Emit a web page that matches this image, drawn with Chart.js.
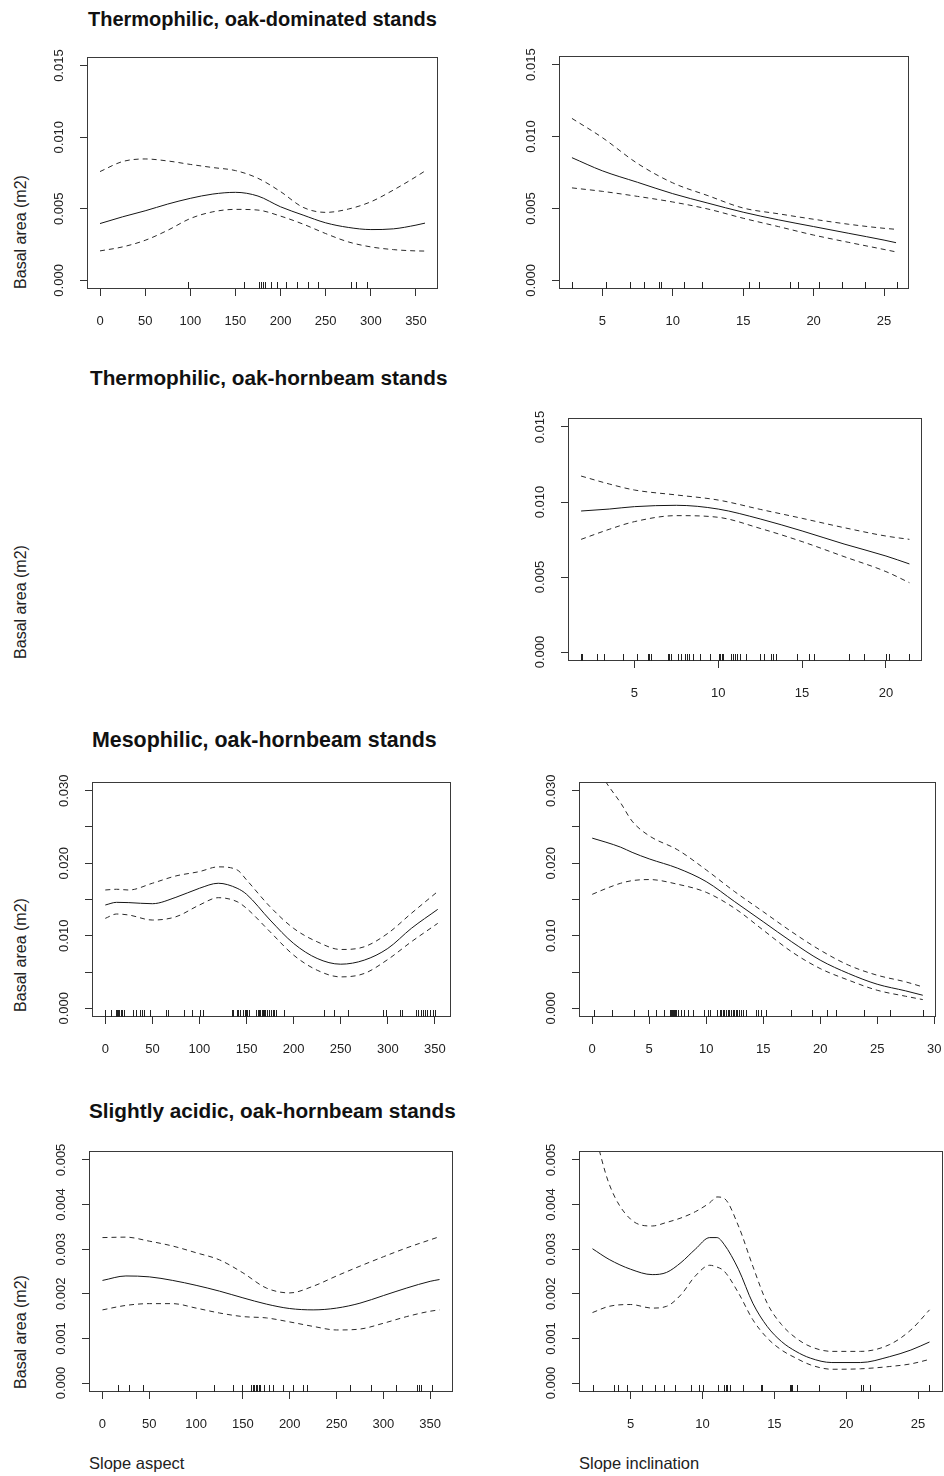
<!DOCTYPE html>
<html>
<head>
<meta charset="utf-8">
<script src="https://cdn.jsdelivr.net/npm/chart.js@4.4.0/dist/chart.umd.min.js"></script>
<style>
  html, body { margin: 0; padding: 0; background: #fff; overflow: hidden; }
  body { width: 944px; height: 1476px; position: relative; font-family: "Liberation Sans", Arial, sans-serif; color: #1a1a1a; }
  canvas { position: absolute; }
  .title { position: absolute; font-weight: bold; font-size: 20px; line-height: 1; white-space: nowrap; color: #111; }
  .ylab { position: absolute; width: 200px; font-size: 16px; line-height: 1; text-align: center; white-space: nowrap; transform: rotate(-90deg); color: #222; }
  .xlab { position: absolute; font-size: 16.5px; line-height: 1; white-space: nowrap; color: #222; }
</style>
</head>
<body>
<div class="title" style="left:88px;top:9px;">Thermophilic, oak-dominated stands</div>
<div class="title" style="left:90px;top:368px;font-size:20.75px;">Thermophilic, oak-hornbeam stands</div>
<div class="title" style="left:92px;top:730px;font-size:21.4px;">Mesophilic, oak-hornbeam stands</div>
<div class="title" style="left:89px;top:1101px;font-size:20.75px;">Slightly acidic, oak-hornbeam stands</div>

<div class="ylab" style="left:-79px;top:224px;">Basal area (m2)</div>
<div class="ylab" style="left:-79px;top:594px;">Basal area (m2)</div>
<div class="ylab" style="left:-79px;top:947px;">Basal area (m2)</div>
<div class="ylab" style="left:-79px;top:1324px;">Basal area (m2)</div>

<div class="xlab" style="left:89px;top:1455px;">Slope aspect</div>
<div class="xlab" style="left:579px;top:1455px;">Slope inclination</div>

<script>
(function () {
  'use strict';

  // tick positions and labels
  var aspectTicks = [0, 50, 100, 150, 200, 250, 300, 350];
  var inclTicksA = [5, 10, 15, 20, 25];
  var inclTicksB = [5, 10, 15, 20];
  var inclTicksC = [0, 5, 10, 15, 20, 25, 30];
  var yTicks015 = [0, 0.005, 0.010, 0.015];
  var yLabels015 = ['0.000', '0.005', '0.010', '0.015'];
  var yTicks030 = [0, 0.005, 0.010, 0.015, 0.020, 0.025, 0.030];
  var yLabels030 = ['0.000', '', '0.010', '', '0.020', '', '0.030'];
  var yTicks005 = [0, 0.001, 0.002, 0.003, 0.004, 0.005];
  var yLabels005 = ['0.000', '0.001', '0.002', '0.003', '0.004', '0.005'];

  // Thermophilic, oak-dominated: slope aspect
  var oakAspX = [0, 25, 50, 75, 100, 125, 150, 175, 200, 225, 250, 275, 300, 325, 350, 360];
  var oakAspFit = [0.00397, 0.00444, 0.00486, 0.00533, 0.00573, 0.00603, 0.00615, 0.00589, 0.00514, 0.00456, 0.00402, 0.0037, 0.00355, 0.0036, 0.00386, 0.0040];
  var oakAspUp = [0.0076, 0.0083, 0.00848, 0.00834, 0.0081, 0.00788, 0.00767, 0.00713, 0.0062, 0.0051, 0.00475, 0.00498, 0.00549, 0.00631, 0.00724, 0.00764];
  var oakAspLo = [0.00206, 0.00234, 0.0028, 0.0035, 0.00432, 0.00479, 0.00496, 0.00491, 0.00449, 0.00393, 0.00327, 0.00269, 0.00234, 0.00215, 0.00206, 0.00205];
  var oakAspRug = [97, 160, 176, 178, 181, 183, 189, 196, 206, 218, 230, 241, 278, 284, 296];

  // Thermophilic, oak-dominated: slope inclination
  var oakIncX = [2.85, 5, 7.5, 10, 12.5, 15, 17.5, 20, 22.5, 25, 25.85];
  var oakIncFit = [0.00853, 0.00762, 0.00682, 0.00603, 0.00537, 0.00474, 0.00421, 0.00374, 0.00327, 0.0028, 0.00262];
  var oakIncUp = [0.01126, 0.00993, 0.00813, 0.00678, 0.00589, 0.00503, 0.00463, 0.00425, 0.0039, 0.00362, 0.00355];
  var oakIncLo = [0.00643, 0.00619, 0.00584, 0.00545, 0.00496, 0.00432, 0.00374, 0.00315, 0.00264, 0.00215, 0.00198];
  var oakIncRug = [2.85, 5.28, 6.99, 7.98, 9.0, 9.16, 10.77, 12.07, 15.45, 16.11, 18.29, 18.92, 20.37, 22.0, 23.65, 25.9];

  // Thermophilic, oak-hornbeam: slope inclination
  var thHbIncX = [1.82, 3.5, 5, 7.5, 10, 12.5, 15, 17.5, 20, 21.4];
  var thHbIncFit = [0.0094, 0.00953, 0.00969, 0.00978, 0.00953, 0.00887, 0.00807, 0.0072, 0.0064, 0.00587];
  var thHbIncUp = [0.01173, 0.0112, 0.0108, 0.01047, 0.01013, 0.00951, 0.00891, 0.00829, 0.00773, 0.00751];
  var thHbIncLo = [0.00751, 0.00818, 0.00869, 0.00909, 0.00898, 0.00824, 0.00736, 0.00636, 0.00536, 0.00462];
  var thHbIncRug = [1.82, 1.88, 2.77, 3.21, 4.3, 5.16, 5.8, 5.9, 6.0, 7.03, 7.09, 7.19, 7.59, 7.79, 7.99, 8.12, 8.28, 8.52, 8.92, 9.52,
    10.03, 10.11, 10.21, 10.31, 10.77, 10.87, 10.97, 11.13, 11.27, 11.63, 12.5, 12.7, 13.16, 13.26, 13.42, 14.69, 15.39, 15.69,
    17.8, 18.69, 20.02, 20.16, 21.37];

  // Mesophilic, oak-hornbeam: slope aspect
  var mesAspX = [0, 12, 25, 50, 75, 100, 120, 140, 150, 175, 200, 225, 250, 275, 300, 325, 353];
  var mesAspFit = [0.01424, 0.01461, 0.01457, 0.01442, 0.0153, 0.01655, 0.01724, 0.01655, 0.01572, 0.01217, 0.00894, 0.00687, 0.00608, 0.00664, 0.00825, 0.01102, 0.01364];
  var mesAspUp = [0.01631, 0.01641, 0.01631, 0.01724, 0.01825, 0.01885, 0.0195, 0.01908, 0.0177, 0.014, 0.01102, 0.00917, 0.00811, 0.00848, 0.01033, 0.01309, 0.0161];
  var mesAspLo = [0.0124, 0.013, 0.01286, 0.01217, 0.01262, 0.01424, 0.01525, 0.0147, 0.01378, 0.01055, 0.00733, 0.00525, 0.00433, 0.0048, 0.00673, 0.00917, 0.01171];
  var mesAspRug = [0, 6, 11, 12, 13, 15, 17, 18, 20, 29, 33, 37, 39, 41, 47, 64, 67, 84, 92, 101, 104,
    135, 136, 140, 141, 143, 146, 148, 149, 150, 153, 160, 162, 163, 164, 166, 167, 169, 170, 172, 174, 176, 178, 179, 181, 190,
    232, 243, 258, 295, 298, 313, 315, 330, 332, 335, 337, 339, 342, 345, 348, 350];

  // Mesophilic, oak-hornbeam: slope inclination
  var mesIncX = [0, 1.2, 2.5, 3.5, 5, 7.5, 10, 12.5, 15, 17.5, 20, 22.5, 25, 27.5, 29];
  var mesIncFit = [0.02346, 0.0229, 0.02221, 0.0215, 0.0206, 0.01931, 0.01747, 0.0147, 0.01194, 0.00917, 0.00664, 0.00479, 0.00332, 0.0024, 0.0018];
  var mesIncUp = [0.0345, 0.0312, 0.0283, 0.0258, 0.02378, 0.02184, 0.01908, 0.01608, 0.01332, 0.01055, 0.00802, 0.00594, 0.00456, 0.00364, 0.00295];
  var mesIncLo = [0.01571, 0.0165, 0.01724, 0.0176, 0.01775, 0.0171, 0.01599, 0.01378, 0.01078, 0.00779, 0.00548, 0.00387, 0.00249, 0.00166, 0.0012];
  var mesIncRug = [0.15, 1.72, 3.7, 4.87, 5.63, 6.33, 6.82, 6.91, 7.0, 7.09, 7.17, 7.26, 7.38, 7.55, 7.79, 8.08, 8.43, 8.87,
    9.83, 10.12, 10.32, 10.99, 11.23, 11.34, 11.46, 11.58, 11.72, 11.87, 12.04, 12.16, 12.37, 12.48, 12.63, 12.74, 12.92,
    13.09, 13.27, 13.47, 14.35, 14.55, 14.79, 15.28, 17.47, 19.25, 20.56, 21.43, 23.83, 26.1, 29.02];

  // Slightly acidic, oak-hornbeam: slope aspect
  var acAspX = [0, 25, 50, 75, 100, 125, 150, 175, 200, 225, 250, 275, 300, 325, 350, 360];
  var acAspFit = [0.0023, 0.0024, 0.00238, 0.0023, 0.00219, 0.00206, 0.00191, 0.00177, 0.00167, 0.00164, 0.00168, 0.00179, 0.00196, 0.00213, 0.00228, 0.00232];
  var acAspUp = [0.00326, 0.00327, 0.00318, 0.00307, 0.00292, 0.00276, 0.00247, 0.00213, 0.00202, 0.00217, 0.0024, 0.00262, 0.00283, 0.00303, 0.00321, 0.00328];
  var acAspLo = [0.00164, 0.00174, 0.00178, 0.00178, 0.00168, 0.00157, 0.00149, 0.00146, 0.00137, 0.00127, 0.00119, 0.00121, 0.00134, 0.00149, 0.00161, 0.00164];
  var acAspRug = [17, 28, 43, 119, 139, 149, 159, 161, 162, 164, 165, 167, 168, 173, 178, 182, 193, 203, 214, 218, 264, 287, 313, 336, 338, 340, 352];

  // Slightly acidic, oak-hornbeam: slope inclination
  var acIncX = [2.34, 3.5, 5, 6.5, 7.5, 8.5, 9.5, 10.5, 11, 11.5, 12.5, 13.5, 14.5, 15.5, 16.5, 17.5, 19, 21, 23, 24.5, 25.8];
  var acIncFit = [0.00301, 0.00277, 0.00255, 0.00243, 0.00248, 0.0027, 0.003, 0.00326, 0.00326, 0.00311, 0.00255, 0.00179, 0.00127, 0.00093, 0.00071, 0.00056, 0.00046, 0.00046, 0.00059, 0.00074, 0.00092];
  var acIncUp = [0.0058, 0.00446, 0.00367, 0.00352, 0.0036, 0.0037, 0.00384, 0.00404, 0.00417, 0.00414, 0.00352, 0.00262, 0.00179, 0.00131, 0.00101, 0.00082, 0.00071, 0.00071, 0.00086, 0.00119, 0.00164];
  var acIncLo = [0.00158, 0.00172, 0.00176, 0.00168, 0.00172, 0.00198, 0.0024, 0.00264, 0.0026, 0.00251, 0.00202, 0.00142, 0.00101, 0.00074, 0.00056, 0.00041, 0.00031, 0.00032, 0.00037, 0.00043, 0.00053];
  var acIncRug = [2.38, 3.84, 4.14, 4.77, 5.81, 6.67, 7.31, 8.06, 9.17, 9.75, 10.02, 11.06, 11.48, 11.6, 11.71, 11.9, 12.8,
    14.07, 14.17, 16.06, 16.16, 16.25, 16.57, 18.08, 21.04, 21.16, 21.67, 25.79];

  var panels = [
    { box: [87, 57, 438, 289], x: [-14.4, 374.4], y: [-0.0006, 0.0156], xt: aspectTicks, yt: yTicks015, yl: yLabels015,
      xs: oakAspX, fit: oakAspFit, up: oakAspUp, lo: oakAspLo, rug: oakAspRug },
    { box: [559, 56, 909, 289], x: [1.93, 26.77], y: [-0.0006, 0.0156], xt: inclTicksA, yt: yTicks015, yl: yLabels015,
      xs: oakIncX, fit: oakIncFit, up: oakIncUp, lo: oakIncLo, rug: oakIncRug },
    { box: [568, 418, 922, 661], x: [1.04, 22.15], y: [-0.0006, 0.0156], xt: inclTicksB, yt: yTicks015, yl: yLabels015,
      xs: thHbIncX, fit: thHbIncFit, up: thHbIncUp, lo: thHbIncLo, rug: thHbIncRug },
    { box: [92, 782, 451, 1017], x: [-14.12, 367.12], y: [-0.0012, 0.0312], xt: aspectTicks, yt: yTicks030, yl: yLabels030,
      xs: mesAspX, fit: mesAspFit, up: mesAspUp, lo: mesAspLo, rug: mesAspRug },
    { box: [579, 782, 936, 1017], x: [-1.16, 30.16], y: [-0.0012, 0.0312], xt: inclTicksC, yt: yTicks030, yl: yLabels030,
      xs: mesIncX, fit: mesIncFit, up: mesIncUp, lo: mesIncLo, rug: mesIncRug },
    { box: [89, 1151, 453, 1392], x: [-14.4, 374.4], y: [-0.0002, 0.0052], xt: aspectTicks, yt: yTicks005, yl: yLabels005,
      xs: acAspX, fit: acAspFit, up: acAspUp, lo: acAspLo, rug: acAspRug },
    { box: [579, 1151, 943, 1392], x: [1.40, 26.74], y: [-0.0002, 0.0052], xt: inclTicksA, yt: yTicks005, yl: yLabels005,
      xs: acIncX, fit: acIncFit, up: acIncUp, lo: acIncLo, rug: acIncRug },
  ];

  // room around each plot box; the right side leaves space for edge tick labels
  var PAD = { left: 10, top: 20, right: 30, bottom: 5 };
  var Y_W = 50;
  var X_H = 40;
  var ink = '#222';

  function pairs(xs, ys) {
    return xs.map(function (x, i) {
      return { x: x, y: ys[i] };
    });
  }

  var framePlugin = {
    id: 'frame',
    afterDatasetsDraw: function (chart) {
      var a = chart.chartArea;
      var ctx = chart.ctx;
      ctx.save();
      ctx.strokeStyle = '#3a3a3a';
      ctx.lineWidth = 1;
      ctx.strokeRect(Math.round(a.left) + 0.5, Math.round(a.top) + 0.5,
        Math.round(a.right - a.left) - 1, Math.round(a.bottom - a.top) - 1);
      ctx.restore();
    },
  };

  function rugPlugin(values) {
    return {
      id: 'rug',
      afterDatasetsDraw: function (chart) {
        var xs = chart.scales.x;
        var a = chart.chartArea;
        var ctx = chart.ctx;
        ctx.save();
        ctx.strokeStyle = ink;
        ctx.lineWidth = 1;
        ctx.beginPath();
        values.forEach(function (v) {
          var px = Math.round(xs.getPixelForValue(v)) + 0.5;
          ctx.moveTo(px, a.bottom);
          ctx.lineTo(px, a.bottom - 7);
        });
        ctx.stroke();
        ctx.restore();
      },
    };
  }

  function lineSet(data, dashed) {
    return {
      data: data,
      borderColor: dashed ? '#2a2a2a' : '#151515',
      borderWidth: 1,
      borderDash: dashed ? [5, 4] : [],
      pointRadius: 0,
      fill: false,
      cubicInterpolationMode: 'monotone',
    };
  }

  function makePanel(p) {
    var b = p.box;
    var w = b[2] - b[0] + Y_W + PAD.left + PAD.right;
    var h = b[3] - b[1] + X_H + PAD.top + PAD.bottom;
    var canvas = document.createElement('canvas');
    canvas.width = w;
    canvas.height = h;
    canvas.style.left = (b[0] - Y_W - PAD.left) + 'px';
    canvas.style.top = (b[1] - PAD.top) + 'px';
    canvas.style.width = w + 'px';
    canvas.style.height = h + 'px';
    document.body.appendChild(canvas);

    new Chart(canvas, {
      type: 'line',
      data: {
        datasets: [
          lineSet(pairs(p.xs, p.fit), false),
          lineSet(pairs(p.xs, p.up), true),
          lineSet(pairs(p.xs, p.lo), true),
        ],
      },
      options: {
        responsive: false,
        animation: false,
        devicePixelRatio: 1,
        layout: { padding: PAD },
        plugins: { legend: { display: false }, tooltip: { enabled: false } },
        scales: {
          x: {
            type: 'linear',
            min: p.x[0],
            max: p.x[1],
            afterFit: function (s) { s.height = X_H; },
            afterBuildTicks: function (s) {
              s.ticks = p.xt.map(function (v) { return { value: v }; });
            },
            border: { display: false },
            grid: { drawOnChartArea: false, tickLength: 7, color: '#333' },
            ticks: {
              autoSkip: false,
              maxRotation: 0,
              padding: 18,
              color: ink,
              font: { family: 'Liberation Sans', size: 13 },
              callback: function (v) { return String(v); },
            },
          },
          y: {
            type: 'linear',
            min: p.y[0],
            max: p.y[1],
            afterFit: function (s) { s.width = Y_W; },
            afterBuildTicks: function (s) {
              s.ticks = p.yt.map(function (v) { return { value: v }; });
            },
            border: { display: false },
            grid: { drawOnChartArea: false, tickLength: 7, color: '#333' },
            ticks: {
              autoSkip: false,
              minRotation: 90,
              maxRotation: 90,
              crossAlign: 'center',
              padding: 4,
              color: ink,
              font: { family: 'Liberation Sans', size: 13 },
              callback: function (v, i) { return p.yl[i]; },
            },
          },
        },
      },
      plugins: [framePlugin, rugPlugin(p.rug)],
    });
  }

  panels.forEach(makePanel);
})();
</script>
</body>
</html>
